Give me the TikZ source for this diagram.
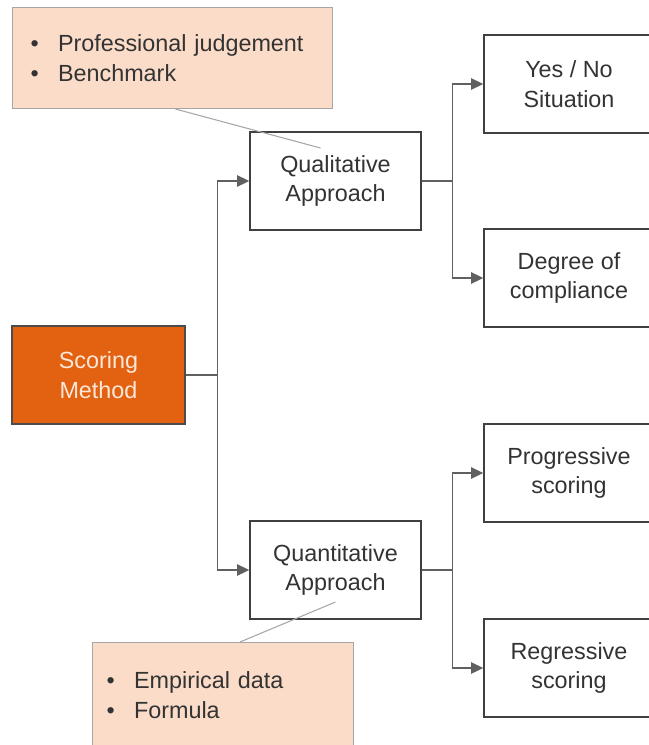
\documentclass[tikz,border=0pt]{standalone}
\usepackage{fontspec}
\setmainfont{Liberation Sans}
\definecolor{orangecol}{RGB}{226,98,18}
\definecolor{peachcol}{RGB}{251,220,201}
\definecolor{linecol}{RGB}{96,96,96}
\usetikzlibrary{arrows.meta,positioning,calc}

\begin{document}
\begin{tikzpicture}[x=0.02cm,y=-0.02cm,
      box/.style={draw=black!75,line width=0.8pt,fill=white,minimum width=3.42cm,minimum height=1.96cm,align=center,font=\fontsize{13.3}{17}\selectfont,text=black!80},
      leaf/.style={box,minimum width=3.4cm},
      note/.style={draw=black!35,line width=0.6pt,fill=peachcol,align=left,font=\fontsize{13.3}{17}\selectfont,text=black!80,anchor=north west},
      link/.style={draw=linecol,line width=0.8pt,-{Triangle[length=7pt,width=6.5pt]}},
      pointer/.style={draw=black!35,line width=0.6pt}
    ]
      \useasboundingbox (0,0) rectangle (649,745);
      \clip (0,0) rectangle (649,745);
      % Root
      \node[box,fill=orangecol,draw=black!70,text=peachcol!70!white,minimum width=3.46cm] (score) at (98.5,375) {Scoring\\Method};
      % Approaches
      \node[box] (qual) at (335.5,181) {Qualitative\\Approach};
      \node[box] (quant) at (335.5,570) {Quantitative\\Approach};
      % Leaves
      \node[leaf] (yesno) at (569,84) {Yes / No\\Situation};
      \node[leaf] (degree) at (569,278) {Degree of\\compliance};
      \node[leaf] (progr) at (569,473) {Progressive\\scoring};
      \node[leaf] (regr) at (569,668) {Regressive\\scoring};
      % Notes
      \node[note,text width=5.68cm,minimum height=2.02cm,inner xsep=0.36cm] (topnote) at (12,7)
        {\textbullet\hspace{11pt}Professional judgement\\\textbullet\hspace{11pt}Benchmark};
      \node[note,text width=4.66cm,minimum height=2.12cm,inner xsep=0.28cm] (botnote) at (92,642)
        {\textbullet\hspace{11pt}Empirical data\\\textbullet\hspace{11pt}Formula};
      \draw[pointer] ($(topnote.south)+(3,0)$) -- ($(qual.center)+(-15,-33)$);
      \draw[pointer] ($(botnote.north)+(17,0)$) -- ($(quant.center)+(0,32)$);
      % Connectors
      \draw[link] (score.east) -- ++(32,0) |- (qual.west);
      \draw[link] (score.east) -- ++(32,0) |- (quant.west);
      \draw[link] (qual.east) -- ++(31,0) |- (yesno.west);
      \draw[link] (qual.east) -- ++(31,0) |- (degree.west);
      \draw[link] (quant.east) -- ++(31,0) |- (progr.west);
      \draw[link] (quant.east) -- ++(31,0) |- (regr.west);
    \end{tikzpicture}
\end{document}
